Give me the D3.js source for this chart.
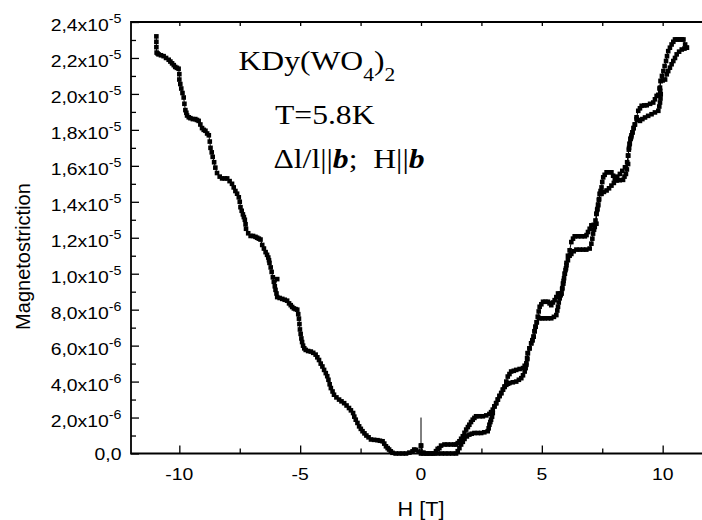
<!DOCTYPE html>
<html>
<head>
<meta charset="utf-8">
<script src="https://cdn.jsdelivr.net/npm/d3@7"></script>
<style>
  html, body { margin: 0; padding: 0; background: #fff; }
  svg { display: block; }
</style>
</head>
<body>
<svg id="chart" width="702" height="520"></svg>
<script>
// ---------------- DATA (H in tesla, magnetostriction in units of 1e-6) ----------------
const xTickValues = [-10, -5, 0, 5, 10];
const xTickLabels = ["-10", "-5", "0", "5", "10"];
const xMinorTicks = [-7.5, -2.5, 2.5, 7.5];

const yTickValues = [0, 2, 4, 6, 8, 10, 12, 14, 16, 18, 20, 22, 24];
const yTickMantissa = ["0,0", "2,0x10", "4,0x10", "6,0x10", "8,0x10", "1,0x10", "1,2x10", "1,4x10", "1,6x10", "1,8x10", "2,0x10", "2,2x10", "2,4x10"];
const yTickExponent = ["", "-6", "-6", "-6", "-6", "-5", "-5", "-5", "-5", "-5", "-5", "-5", "-5"];
const yMinorTicks = [1, 3, 5, 7, 9, 11, 13, 15, 17, 19, 21, 23];

// negative-field branch
const leftBranch = [
[-10.95,23.2],[-10.95,22.9],[-10.95,22.6],[-10.94,22.3],[-10.9,22.25],[-10.86,22.2],[-10.76,22.15],[-10.65,22.1],
[-10.55,22.0],[-10.44,21.9],[-10.37,21.8],[-10.3,21.7],[-10.23,21.6],[-10.17,21.5],[-10.1,21.45],[-10.03,21.4],
[-10.0,21.1],[-10.0,20.8],[-9.96,20.55],[-9.92,20.3],[-9.87,20.05],[-9.82,19.8],[-9.79,19.45],[-9.75,19.1],
[-9.71,18.95],[-9.68,18.8],[-9.61,18.7],[-9.54,18.65],[-9.44,18.6],[-9.34,18.6],[-9.27,18.55],[-9.2,18.5],
[-9.13,18.3],[-9.06,18.1],[-8.99,18.0],[-8.92,17.95],[-8.85,17.8],[-8.78,17.7],[-8.74,17.35],[-8.71,17.0],
[-8.66,16.75],[-8.62,16.5],[-8.56,16.2],[-8.51,15.9],[-8.44,15.6],[-8.33,15.4],[-8.23,15.3],[-8.12,15.3],
[-8.02,15.3],[-7.92,15.15],[-7.82,15.0],[-7.75,14.8],[-7.68,14.6],[-7.61,14.45],[-7.54,14.25],[-7.5,14.0],
[-7.47,13.7],[-7.42,13.5],[-7.37,13.3],[-7.33,13.15],[-7.29,13.0],[-7.26,12.75],[-7.24,12.5],[-7.15,12.25],
[-7.05,12.1],[-6.95,12.1],[-6.85,12.05],[-6.78,12.0],[-6.71,11.95],[-6.64,11.9],[-6.57,11.6],[-6.5,11.4],
[-6.43,11.2],[-6.37,11.05],[-6.32,10.9],[-6.29,10.75],[-6.27,10.6],[-6.22,10.35],[-6.18,10.1],[-6.13,9.8],
[-6.09,9.55],[-5.95,9.7],[-6.05,9.3],[-6.02,9.1],[-5.98,8.9],[-5.95,8.7],[-5.85,8.65],[-5.74,8.6],
[-5.64,8.55],[-5.54,8.5],[-5.46,8.35],[-5.39,8.25],[-5.33,8.15],[-5.26,8.07],[-5.19,8.03],[-5.12,8.0],
[-5.08,7.75],[-5.05,7.5],[-5.03,7.2],[-5.01,6.9],[-4.98,6.65],[-4.95,6.4],[-4.92,6.2],[-4.88,6.0],
[-4.83,5.85],[-4.77,5.76],[-4.67,5.7],[-4.56,5.67],[-4.46,5.6],[-4.36,5.5],[-4.29,5.35],[-4.22,5.2],
[-4.15,5.0],[-4.08,4.84],[-4.01,4.65],[-3.94,4.47],[-3.88,4.3],[-3.83,4.1],[-3.78,3.85],[-3.73,3.64],
[-3.66,3.45],[-3.6,3.27],[-3.5,3.12],[-3.39,3.0],[-3.29,2.9],[-3.18,2.8],[-3.08,2.67],[-2.98,2.53],
[-2.9,2.4],[-2.81,2.25],[-2.76,2.05],[-2.7,1.88],[-2.63,1.7],[-2.56,1.51],[-2.49,1.37],[-2.42,1.24],
[-2.34,1.12],[-2.26,1.0],[-2.17,0.9],[-2.07,0.78],[-1.94,0.76],[-1.8,0.74],[-1.7,0.71],[-1.59,0.68],
[-1.52,0.55],[-1.45,0.4],[-1.38,0.3],[-1.32,0.22],[-1.25,0.12],[-1.18,0.04],[-1.05,0.0],[-0.9,0.0],
[-0.76,0.0],[-0.62,0.0],[-0.48,0.05],[-0.35,0.12],[-0.28,0.22],[-0.2,0.2],[-0.1,0.1],[0,0.44]
];

// positive field, increasing sweep (transitions at higher field)
const upSweep = [
[0,0.44],[0.1,0.05],[0.25,0.0],[0.4,0.0],[0.55,0.0],[0.7,0.0],[0.85,0.0],[1.0,0.0],[1.15,0.0],[1.3,0.0],
[1.45,0.0],[1.52,0.13],[1.59,0.3],[1.66,0.5],[1.73,0.65],[1.8,0.81],[1.9,0.95],[2.0,1.05],[2.1,1.1],
[2.21,1.14],[2.35,1.14],[2.49,1.14],[2.62,1.18],[2.76,1.24],[2.8,1.4],[2.83,1.6],[2.87,1.75],[2.9,1.88],
[2.94,2.05],[2.97,2.25],[3.04,2.62],[3.11,2.8],[3.18,3.0],[3.25,3.2],[3.32,3.36],[3.39,3.55],[3.46,3.7],
[3.53,3.82],[3.6,3.88],[3.66,3.92],[3.8,3.96],[3.94,4.0],[4.05,4.1],[4.15,4.19],[4.22,4.35],[4.29,4.56],
[4.33,4.75],[4.36,4.93],[4.4,5.25],[4.42,5.58],[4.49,5.85],[4.56,6.13],[4.61,6.3],[4.66,6.5],[4.7,6.8],
[4.74,7.05],[4.79,7.3],[4.84,7.6],[4.91,7.52],[5.02,7.52],[5.12,7.52],[5.25,7.52],[5.39,7.52],[5.5,7.6],
[5.6,7.7],[5.64,7.95],[5.67,8.16],[5.7,8.4],[5.74,8.63],[5.78,8.8],[5.81,8.9],[5.85,9.2],[5.88,9.45],
[5.92,9.75],[5.95,10.0],[6.0,10.3],[6.02,10.47],[6.08,10.75],[6.15,11.0],[6.22,11.1],[6.32,11.25],
[6.43,11.34],[6.57,11.34],[6.71,11.34],[6.84,11.34],[6.98,11.4],[7.05,11.67],[7.09,11.95],[7.12,12.23],
[7.16,12.45],[7.19,12.6],[7.22,12.96],[7.26,13.33],[7.3,13.6],[7.33,13.85],[7.37,14.15],[7.4,14.44],
[7.47,14.44],[7.57,14.55],[7.68,14.63],[7.78,14.75],[7.88,14.9],[7.98,15.05],[8.09,15.18],[8.22,15.2],
[8.36,15.22],[8.42,15.4],[8.48,15.55],[8.52,15.8],[8.57,16.1],[8.57,16.57],[8.61,17.0],[8.64,17.25],
[8.67,17.5],[8.71,17.7],[8.75,17.86],[8.8,18.1],[8.85,18.3],[8.92,18.6],[8.99,18.55],[9.06,18.5],
[9.16,18.6],[9.27,18.69],[9.4,18.78],[9.54,18.87],[9.68,18.97],[9.82,19.06],[9.86,19.3],[9.89,19.52],
[9.91,19.75],[9.92,19.98],[9.9,20.17],[9.89,20.35],[9.92,20.72],[10.0,20.75],[10.1,20.8],[10.17,21.09],
[10.23,21.27],[10.3,21.46],[10.37,21.65],[10.44,21.83],[10.51,22.0],[10.58,22.2],[10.68,22.35],
[10.79,22.47],[10.9,22.52],[11.0,22.57]
];

// positive field, decreasing sweep (transitions at lower field)
const downSweep = [
[11.0,22.57],[10.93,22.75],[10.86,23.03],[10.79,23.03],[10.72,23.03],[10.65,23.03],[10.58,23.03],[10.51,23.03],
[10.44,22.9],[10.37,22.75],[10.3,22.57],[10.23,22.38],[10.18,22.1],[10.14,21.83],[10.08,21.55],[10.03,21.27],
[9.97,21.0],[9.92,20.72],[9.87,20.3],[9.82,19.95],[9.75,19.89],[9.68,19.7],[9.61,19.52],[9.48,19.45],
[9.34,19.37],[9.24,19.36],[9.13,19.34],[9.06,19.2],[8.99,19.06],[8.92,18.7],[8.85,18.3],[8.8,18.1],
[8.75,17.86],[8.7,17.6],[8.67,17.5],[8.63,17.2],[8.6,16.9],[8.57,16.57],[8.53,16.2],[8.44,15.92],
[8.33,15.72],[8.23,15.55],[8.12,15.4],[8.02,15.27],[7.95,15.45],[7.88,15.64],[7.78,15.64],[7.68,15.64],
[7.6,15.5],[7.54,15.36],[7.5,15.1],[7.47,14.8],[7.43,14.6],[7.4,14.44],[7.36,14.1],[7.33,13.8],
[7.29,13.55],[7.26,13.33],[7.26,12.78],[7.15,12.72],[7.05,12.69],[6.98,12.5],[6.91,12.32],[6.85,12.15],
[6.78,12.08],[6.64,12.08],[6.5,12.08],[6.36,12.08],[6.29,11.95],[6.22,11.76],[6.15,11.3],[6.08,11.0],
[6.02,10.6],[5.98,10.2],[5.95,10.0],[5.9,9.6],[5.88,9.45],[5.84,9.15],[5.81,8.9],[5.74,8.9],
[5.67,8.9],[5.6,8.7],[5.53,8.53],[5.46,8.4],[5.39,8.25],[5.32,8.35],[5.25,8.44],[5.15,8.44],
[5.05,8.44],[4.98,8.3],[4.91,8.16],[4.87,7.9],[4.84,7.6],[4.79,7.3],[4.74,7.05],[4.7,6.8],
[4.66,6.5],[4.61,6.3],[4.56,6.13],[4.49,5.85],[4.42,5.58],[4.39,5.3],[4.36,5.02],[4.29,4.88],
[4.22,4.75],[4.08,4.7],[3.94,4.65],[3.84,4.6],[3.73,4.56],[3.66,4.42],[3.59,4.28],[3.53,4.0],
[3.46,3.73],[3.39,3.55],[3.32,3.36],[3.25,3.2],[3.18,3.0],[3.11,2.8],[3.04,2.62],[2.97,2.44],
[2.9,2.3],[2.83,2.2],[2.7,2.12],[2.56,2.07],[2.42,2.07],[2.28,2.07],[2.21,1.98],[2.14,1.88],
[2.07,1.75],[2.0,1.6],[1.94,1.47],[1.87,1.33],[1.8,1.15],[1.73,0.96],[1.66,0.82],[1.59,0.68],
[1.52,0.58],[1.45,0.5],[1.38,0.5],[1.24,0.5],[1.1,0.5],[0.97,0.5],[0.83,0.44],[0.76,0.3],
[0.69,0.26],[0.62,0.13],[0.5,0.0],[0.35,0.0],[0.2,0.0],[0.1,0.0],[0,0.0]
];

// thin vertical marker line at H = 0
const zeroMarker = [[0, 0], [0, 2.0]];

const annotationLine1 = ["KDy(WO", "4", ")", "2"];
const annotationLine2 = "T=5.8K";
const annotationLine3 = ["\u0394l/l||", "b", ";  H||", "b"];
const xTitle = "H [T]";
const yTitle = "Magnetostriction";

// ---------------- DRAWING ----------------
const svg = d3.select("#chart");
const x = d3.scaleLinear().domain([-12, 12]).range([131, 711]);
const y = d3.scaleLinear().domain([0, 24]).range([453.5, 22]);
const sans = "'Liberation Sans', Arial, sans-serif";
const serif = "'Liberation Serif', 'Times New Roman', serif";
const stretch = 1.14;

// axes ticks (inward)
const axisG = svg.append("g");
function tickAxis(axis, tr) {
  const g = axisG.append("g").attr("transform", tr).call(axis);
  g.select(".domain").remove();
  g.selectAll("line").attr("stroke", "#000").attr("stroke-width", 1.3);
  g.selectAll("text").remove();
  return g;
}
tickAxis(d3.axisBottom(x).tickValues(xTickValues).tickSize(-8).tickSizeOuter(0), `translate(0,${y(0)})`);
tickAxis(d3.axisBottom(x).tickValues(xMinorTicks).tickSize(-5).tickSizeOuter(0), `translate(0,${y(0)})`);
tickAxis(d3.axisTop(x).tickValues(xTickValues.concat(xMinorTicks)).tickSize(-4).tickSizeOuter(0), `translate(0,${y(24)})`);
tickAxis(d3.axisLeft(y).tickValues(yTickValues).tickSize(-8).tickSizeOuter(0), `translate(${x(-12)},0)`);
tickAxis(d3.axisLeft(y).tickValues(yMinorTicks).tickSize(-5).tickSizeOuter(0), `translate(${x(-12)},0)`);

// frame
const x0 = x(-12), x1 = x(12), yb = y(0), yt = y(24);
svg.append("path")
  .attr("d", `M${x0},${yt} H${x1} V${yb} H${x0} Z`)
  .attr("fill", "none").attr("stroke", "#000").attr("stroke-width", 1.8);

// x tick labels
xTickValues.forEach((v, i) => {
  svg.append("g").attr("transform", `translate(${x(v)},479.5) scale(${stretch},1)`)
    .append("text").attr("text-anchor", "middle")
    .attr("font-family", sans).attr("font-size", 17).attr("fill", "#000")
    .text(xTickLabels[i]);
});

// y tick labels
yTickValues.forEach((v, i) => {
  const hasExp = yTickExponent[i] !== "";
  const t = svg.append("g").attr("transform", `translate(121.5,${y(v) + (hasExp ? 9 : 6)}) scale(${stretch},1)`)
    .append("text").attr("text-anchor", "end")
    .attr("font-family", sans).attr("font-size", 17).attr("fill", "#000");
  t.append("tspan").text(yTickMantissa[i]);
  if (hasExp) {
    t.append("tspan").attr("font-size", 12.5).attr("dy", -8).text(yTickExponent[i]);
  }
});

// axis titles
svg.append("g").attr("transform", `translate(${x(0)},516) scale(1.08,1)`)
  .append("text").attr("text-anchor", "middle")
  .attr("font-family", sans).attr("font-size", 20).attr("fill", "#000").text(xTitle);
svg.append("text")
  .attr("transform", `translate(29.5,256.5) rotate(-90)`)
  .attr("text-anchor", "middle")
  .attr("font-family", sans).attr("font-size", 20).attr("fill", "#000").text(yTitle);

// data
const line = d3.line().x(d => x(d[0])).y(d => y(d[1]));
const plot = svg.append("g");
[leftBranch, upSweep, downSweep].forEach(series => {
  plot.append("path").attr("d", line(series))
    .attr("fill", "none").attr("stroke", "#000").attr("stroke-width", 1);
});
plot.append("path").attr("d", line(zeroMarker))
  .attr("fill", "none").attr("stroke", "#000").attr("stroke-width", 1);
const ms = 4.6;
[leftBranch, upSweep, downSweep].forEach(series => {
  plot.append("g").selectAll("rect").data(series).join("rect")
    .attr("x", d => x(d[0]) - ms / 2).attr("y", d => y(d[1]) - ms / 2)
    .attr("width", ms).attr("height", ms).attr("fill", "#000");
});

// annotation
const sx = 1.13;
const a1 = svg.append("g").attr("transform", `translate(238.5,70) scale(${sx},1)`)
  .append("text").attr("font-family", serif).attr("font-size", 28).attr("fill", "#000");
a1.append("tspan").text(annotationLine1[0]);
a1.append("tspan").attr("font-size", 19).attr("dy", 11).text(annotationLine1[1]);
a1.append("tspan").attr("dy", -11).text(annotationLine1[2]);
a1.append("tspan").attr("font-size", 19).attr("dy", 11).text(annotationLine1[3]);

svg.append("g").attr("transform", `translate(275,124) scale(${sx},1)`)
  .append("text").attr("font-family", serif).attr("font-size", 28).attr("fill", "#000")
  .text(annotationLine2);

const a3 = svg.append("g").attr("transform", `translate(273.5,168) scale(${sx},1)`)
  .append("text").attr("font-family", serif).attr("font-size", 28).attr("fill", "#000")
  .attr("xml:space", "preserve").style("white-space", "pre");
a3.append("tspan").text(annotationLine3[0]);
a3.append("tspan").attr("font-weight", "bold").attr("font-style", "italic").text(annotationLine3[1]);
a3.append("tspan").text(annotationLine3[2]);
a3.append("tspan").attr("font-weight", "bold").attr("font-style", "italic").text(annotationLine3[3]);
</script>
</body>
</html>
